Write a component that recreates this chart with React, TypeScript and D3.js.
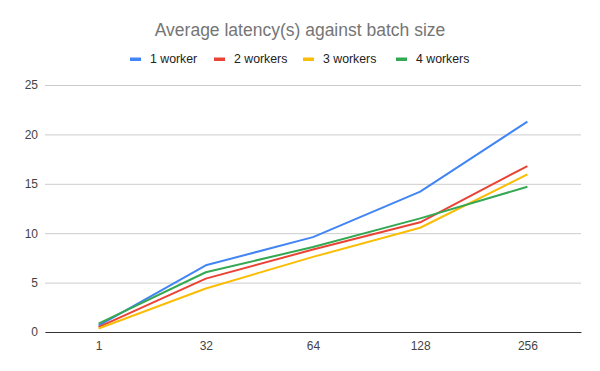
import React, { useEffect, useRef } from 'react';
import * as d3 from 'd3';

const batchSizes = ['1', '32', '64', '128', '256'];
const worker1 = [0.65, 6.75, 9.6, 14.2, 21.3];
const worker2 = [0.5, 5.4, 8.35, 11.1, 16.8];
const worker3 = [0.35, 4.4, 7.6, 10.55, 15.95];
const worker4 = [0.85, 6.05, 8.6, 11.5, 14.7];
const seriesNames = ['1 worker', '2 workers', '3 workers', '4 workers'];
const seriesColors = ['#4285f4', '#ea4335', '#fbbc04', '#34a853'];
const yTicks = [0, 5, 10, 15, 20, 25];

const FONT = '"Liberation Sans", Arial, sans-serif';

const App = () => {
  const svgRef = useRef<SVGSVGElement>(null);

  useEffect(() => {
    const svg = d3.select(svgRef.current);
    svg.selectAll('*').remove();

    const width = 600;
    const height = 371;
    const margin = { top: 85, right: 19, bottom: 39, left: 45 };
    const innerW = width - margin.left - margin.right;
    const innerH = height - margin.top - margin.bottom;

    svg.append('rect').attr('width', width).attr('height', height).attr('fill', '#fff');

    const x = d3.scalePoint().domain(batchSizes).range([0, innerW]).padding(0.5);
    const y = d3.scaleLinear().domain([0, 25]).range([innerH, 0]);

    const g = svg.append('g').attr('transform', `translate(${margin.left},${margin.top})`);

    // gridlines + y labels
    g.append('g')
      .call(d3.axisLeft(y).tickValues(yTicks).tickSize(-innerW).tickPadding(7))
      .call(a => a.select('.domain').remove())
      .call(a => a.selectAll('.tick line').attr('stroke', '#cccccc'))
      .call(a => a.selectAll('.tick text')
        .attr('fill', '#444').attr('font-size', 12).attr('font-family', FONT));

    // x axis
    g.append('g')
      .attr('transform', `translate(0,${innerH})`)
      .call(d3.axisBottom(x).tickSize(0).tickPadding(9))
      .call(a => a.select('.domain').attr('stroke', '#333').attr('stroke-width', 1.2))
      .call(a => a.selectAll('.tick text')
        .attr('fill', '#444').attr('font-size', 12).attr('font-family', FONT));

    const allSeries = [worker1, worker2, worker3, worker4];
    const line = d3.line<number>()
      .x((_, i) => x(batchSizes[i]) as number)
      .y(d => y(d));

    allSeries.forEach((s, i) => {
      g.append('path')
        .datum(s)
        .attr('fill', 'none')
        .attr('stroke', seriesColors[i])
        .attr('stroke-width', 2)
        .attr('stroke-linejoin', 'round')
        .attr('d', line);
    });

    // title
    svg.append('text')
      .attr('x', 300)
      .attr('y', 36)
      .attr('text-anchor', 'middle')
      .attr('fill', '#757575')
      .attr('font-size', 17.5)
      .attr('font-family', FONT)
      .text('Average latency(s) against batch size');

    // legend
    const legendX = [130, 214, 303, 396];
    const legend = svg.append('g');
    seriesNames.forEach((name, i) => {
      legend.append('rect')
        .attr('x', legendX[i]).attr('y', 57.5)
        .attr('width', 11).attr('height', 3.5)
        .attr('fill', seriesColors[i]);
      legend.append('text')
        .attr('x', legendX[i] + 20).attr('y', 63)
        .attr('fill', '#222')
        .attr('font-size', 12.3)
        .attr('font-family', FONT)
        .text(name);
    });
  }, []);

  return <svg ref={svgRef} width={600} height={371} style={{ display: 'block', margin: -8 }} />;
};

export default App;
